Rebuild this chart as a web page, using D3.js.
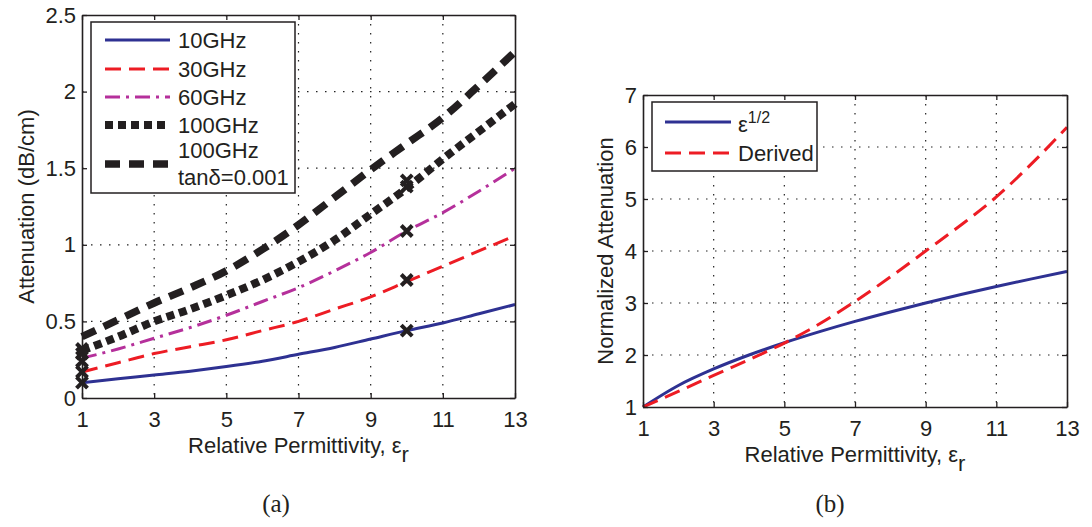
<!DOCTYPE html>
<html><head><meta charset="utf-8">
<script src="https://cdn.jsdelivr.net/npm/d3@7"></script>
<style>
body{margin:0;background:#fff}
svg text{font-family:"Liberation Sans",Arial,Helvetica,sans-serif;fill:#231f20}
</style>
</head><body>
<svg id="c" width="1092" height="527"></svg>
<script>
// ---------------- data ----------------
const permittivity = [1,2,3,4,5,6,7,8,9,10,11,12,13];
const att10GHz   = [0.10,0.125,0.15,0.175,0.205,0.24,0.285,0.33,0.385,0.44,0.49,0.55,0.61];
const att30GHz   = [0.17,0.23,0.29,0.335,0.38,0.44,0.50,0.58,0.66,0.76,0.86,0.96,1.06];
const att60GHz   = [0.26,0.32,0.39,0.46,0.54,0.63,0.72,0.83,0.95,1.09,1.21,1.35,1.50];
const att100GHz  = [0.31,0.40,0.50,0.58,0.67,0.77,0.89,1.03,1.20,1.37,1.56,1.74,1.92];
const att100GHzTan = [0.40,0.51,0.62,0.72,0.83,0.97,1.13,1.31,1.49,1.66,1.83,2.04,2.26];
const markerEps = [1,1,1,1,1,10,10,10,10,10];
const markerAtt = [0.10,0.17,0.24,0.29,0.32,0.44,0.77,1.09,1.38,1.42];
const seriesNamesA = ["10GHz","30GHz","60GHz","100GHz","100GHz|tanδ=0.001"];

const normSqrt    = [1,1.414,1.732,2,2.236,2.449,2.646,2.828,3,3.162,3.317,3.464,3.606];
const normDerived = [1,1.30,1.61,1.91,2.23,2.60,3.03,3.50,4.00,4.50,5.04,5.68,6.38];

const xTicks  = [1,3,5,7,9,11,13];
const xGrid   = [3,5,7,9,11];
const yTicksA = [0,0.5,1,1.5,2,2.5];
const yGridA  = [0.5,1,1.5,2];
const yTicksB = [1,2,3,4,5,6,7];
const yGridB  = [2,3,4,5,6];

// ---------------- styles ----------------
const FS = 22;
const ink = "#231f20";
const stylesA = [
  {color:"#2e3192", width:3, dash:null},
  {color:"#ed1c24", width:3, dash:"16,8"},
  {color:"#b5309b", width:3, dash:"15,6,3,6"},
  {color:ink, width:8, dash:"8,5"},
  {color:ink, width:7.5, dash:"15,9"}
];
const stylesB = [
  {color:"#2e3192", width:3, dash:null},
  {color:"#ed1c24", width:3, dash:"16,8"}
];

const svg = d3.select("#c");

function panel(cfg){
  const x = d3.scaleLinear().domain([1,13]).range([cfg.x0,cfg.x1]);
  const y = d3.scaleLinear().domain(cfg.yDomain).range([cfg.y1,cfg.y0]);
  const g = svg.append("g");
  // grid
  g.selectAll(".gx").data(cfg.xGrid).join("line")
    .attr("x1",d=>x(d)).attr("x2",d=>x(d)).attr("y1",cfg.y0).attr("y2",cfg.y1)
    .attr("stroke","#222").attr("stroke-width",1.2).attr("stroke-dasharray","1.5,7.5");
  g.selectAll(".gy").data(cfg.yGrid).join("line")
    .attr("y1",d=>y(d)).attr("y2",d=>y(d)).attr("x1",cfg.x0).attr("x2",cfg.x1)
    .attr("stroke","#222").attr("stroke-width",1.2).attr("stroke-dasharray","1.5,7.5");
  // series
  const line = d3.line().x((d,i)=>x(permittivity[i])).y(d=>y(d)).curve(d3.curveMonotoneX);
  cfg.series.forEach((s,i)=>{
    const st = cfg.styles[i];
    g.append("path").attr("d",line(s)).attr("fill","none")
      .attr("stroke",st.color).attr("stroke-width",st.width)
      .attr("stroke-dasharray",st.dash).attr("stroke-linecap","butt");
  });
  // axes
  const bottom = g.append("g").attr("transform",`translate(0,${cfg.y1})`)
    .call(d3.axisBottom(x).tickValues(xTicks).tickSizeInner(-5).tickSizeOuter(0).tickPadding(13).tickFormat(d3.format("d")));
  const left = g.append("g").attr("transform",`translate(${cfg.x0},0)`)
    .call(d3.axisLeft(y).tickValues(cfg.yTicks).tickSizeInner(-5).tickSizeOuter(0).tickPadding(6).tickFormat(d=>String(d)));
  const top = g.append("g").attr("transform",`translate(0,${cfg.y0})`)
    .call(d3.axisTop(x).tickValues(xTicks).tickSizeInner(-5).tickSizeOuter(0).tickFormat(""));
  const right = g.append("g").attr("transform",`translate(${cfg.x1},0)`)
    .call(d3.axisRight(y).tickValues(cfg.yTicks).tickSizeInner(-5).tickSizeOuter(0).tickFormat(""));
  [bottom,left,top,right].forEach(a=>{
    a.attr("font-size",null).attr("font-family",null);
    a.selectAll("text").style("font-size",FS+"px").attr("fill",ink);
    a.selectAll("line").attr("stroke",ink).attr("stroke-width",1.3);
    a.select(".domain").attr("stroke",ink).attr("stroke-width",1.6);
  });
  // x label
  const xl = g.append("text").attr("x",(cfg.x0+cfg.x1)/2).attr("y",cfg.y1+55)
    .attr("text-anchor","middle").style("font-size",FS+"px");
  xl.append("tspan").text("Relative Permittivity, ε");
  xl.append("tspan").attr("dy",9).text("r");
  // y label
  g.append("text").attr("transform",`translate(${cfg.ylx},${(cfg.y0+cfg.y1)/2}) rotate(-90)`)
    .attr("text-anchor","middle").style("font-size",FS+"px").text(cfg.ylabel);
  // caption
  svg.append("text").attr("x",cfg.capX).attr("y",512).attr("text-anchor","middle")
    .style("font-family","'Liberation Serif','DejaVu Serif',serif").style("font-size","25px")
    .text(cfg.caption);
  return {x,y,g};
}

// ---------------- panel (a) ----------------
const A = panel({x0:82,x1:515,y0:15,y1:398,yDomain:[0,2.5],xGrid,yGrid:yGridA,yTicks:yTicksA,
  series:[att10GHz,att30GHz,att60GHz,att100GHz,att100GHzTan],styles:stylesA,
  ylabel:"Attenuation (dB/cm)",ylx:34,caption:"(a)",capX:276});

// markers
A.g.selectAll(".mk").data(markerAtt).join("path")
  .attr("d",(d,i)=>{const cx=A.x(markerEps[i]),cy=A.y(d),r=5.5;
    return `M${cx-r},${cy-r}L${cx+r},${cy+r}M${cx-r},${cy+r}L${cx+r},${cy-r}`;})
  .attr("stroke",ink).attr("stroke-width",4).attr("fill","none");

// legend (a)
const LA = A.g.append("g");
LA.append("rect").attr("x",91).attr("y",22).attr("width",204).attr("height",171)
  .attr("fill","#fff").attr("stroke",ink).attr("stroke-width",1.5);
const rowY = [40,69,97,125,164];
seriesNamesA.forEach((name,i)=>{
  const st = stylesA[i];
  LA.append("line").attr("x1",105).attr("x2",170).attr("y1",rowY[i]).attr("y2",rowY[i])
    .attr("stroke",st.color).attr("stroke-width",st.width).attr("stroke-dasharray",st.dash);
  const parts = name.split("|");
  if(parts.length===1){
    LA.append("text").attr("x",178).attr("y",rowY[i]+8).style("font-size",FS+"px").text(name);
  } else {
    LA.append("text").attr("x",178).attr("y",158).style("font-size",FS+"px").text(parts[0]);
    LA.append("text").attr("x",178).attr("y",185).style("font-size",FS+"px").text(parts[1]);
  }
});

// ---------------- panel (b) ----------------
const B = panel({x0:643,x1:1067,y0:95,y1:407,yDomain:[1,7],xGrid,yGrid:yGridB,yTicks:yTicksB,
  series:[normSqrt,normDerived],styles:stylesB,
  ylabel:"Normalized Attenuation",ylx:613,caption:"(b)",capX:830});

const LB = B.g.append("g");
LB.append("rect").attr("x",652).attr("y",102).attr("width",165).attr("height",69)
  .attr("fill","#fff").attr("stroke",ink).attr("stroke-width",1.5);
LB.append("line").attr("x1",665).attr("x2",731).attr("y1",122).attr("y2",122)
  .attr("stroke",stylesB[0].color).attr("stroke-width",3);
LB.append("line").attr("x1",665).attr("x2",731).attr("y1",153).attr("y2",153)
  .attr("stroke",stylesB[1].color).attr("stroke-width",3).attr("stroke-dasharray",stylesB[1].dash);
const le = LB.append("text").attr("x",738).attr("y",132).style("font-size",FS+"px");
le.append("tspan").text("ε");
le.append("tspan").attr("dy",-9).style("font-size","16px").text("1/2");
LB.append("text").attr("x",738).attr("y",161).style("font-size",FS+"px").text("Derived");
</script>
</body></html>
